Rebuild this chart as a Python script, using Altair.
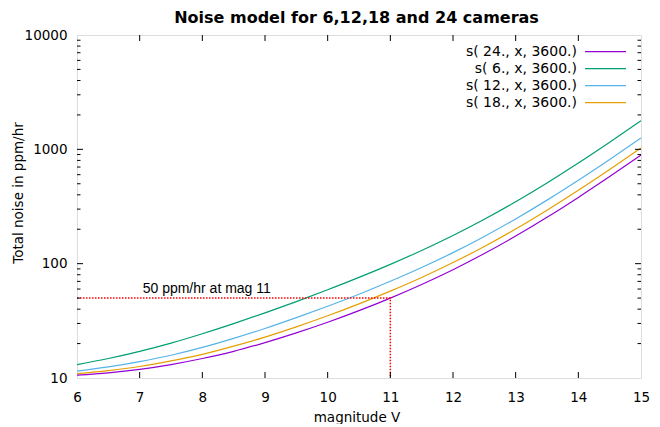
import altair as alt
import pandas as pd

# ---- data ----
mag = [6.0, 6.5, 7.0, 7.5, 8.0, 8.5, 9.0, 9.5, 10.0, 10.5, 11.0,
       11.5, 12.0, 12.5, 13.0, 13.5, 14.0, 14.5, 15.0]
noise_24 = [10.6, 11.1, 11.9, 13.1, 14.8, 17.1, 20.4, 24.8, 30.7, 38.8, 50.0,
            65.8, 88.6, 122.6, 174.3, 254.4, 379.8, 577.5, 890.0]
noise_6 = [13.1, 14.8, 17.1, 20.2, 24.4, 29.9, 37.1, 46.6, 59.1, 75.8, 98.6,
           130.5, 176.4, 244.6, 348.2, 508.5, 759.5, 1154.9, 1779.9]
noise_12 = [11.5, 12.5, 13.9, 15.8, 18.5, 22.2, 27.1, 33.7, 42.4, 54.0, 70.1,
            92.5, 124.9, 173.1, 246.3, 359.6, 537.1, 816.7, 1258.6]
noise_18 = [10.9, 11.6, 12.6, 14.1, 16.1, 19.0, 22.8, 28.0, 35.0, 44.5, 57.5,
            75.7, 102.2, 141.4, 201.2, 293.7, 438.6, 666.8, 1027.7]

series_labels = ["s( 24., x, 3600.)", "s( 6., x, 3600.)",
                 "s( 12., x, 3600.)", "s( 18., x, 3600.)"]
series_colors = ["#9400d3", "#009e73", "#56b4e9", "#e69f00"]

x_ticks = [6, 7, 8, 9, 10, 11, 12, 13, 14, 15]
y_ticks = [10, 100, 1000, 10000]
y_minor = [m * d for d in (10, 100, 1000) for m in range(2, 10)]

ref_mag = 11
ref_noise = 50
ann_mag = 7
ann_noise = 60
ann_text = "50 ppm/hr at mag 11"

title_text = "Noise model for 6,12,18 and 24 cameras"
x_title = "magnitude V"
y_title = "Total noise in ppm/hr"

# ---- layout ----
W, H = 564, 343

rows = []
for lab, vals in zip(series_labels, [noise_24, noise_6, noise_12, noise_18]):
    for m, v in zip(mag, vals):
        rows.append({"mag": m, "noise": v, "series": lab})
df = pd.DataFrame(rows)

xs = alt.Scale(domain=[6, 15], nice=False, zero=False)
ys = alt.Scale(type="log", domain=[10, 10000], nice=False)

ax_x = alt.Axis(values=x_ticks, ticks=False, tickSize=0, domain=False, grid=False,
                labelFont="DejaVu Sans", labelFontSize=13.5, labelColor="black",
                labelPadding=12, labelFlush=False, title="")
ax_y = alt.Axis(values=y_ticks, format="d", ticks=False, tickSize=0, domain=False,
                grid=False, labelFont="DejaVu Sans", labelFontSize=13.5,
                labelColor="black", labelPadding=10, labelFlush=False, title="")

X = lambda: alt.X("mag:Q", scale=xs, axis=ax_x)
Y = lambda: alt.Y("noise:Q", scale=ys, axis=ax_y)

lines = alt.Chart(df).mark_line(strokeWidth=1.2, interpolate="monotone").encode(
    x=X(), y=Y(),
    color=alt.Color("series:N", scale=alt.Scale(domain=series_labels, range=series_colors),
                    legend=None),
    order=alt.Order("mag:Q"),
)

ref_df = pd.DataFrame({"mag": [6, ref_mag, ref_mag],
                       "noise": [ref_noise, ref_noise, 10],
                       "k": [0, 1, 2]})
ref = alt.Chart(ref_df).mark_line(color="red", strokeWidth=1.5, strokeDash=[1.5, 1.5]).encode(
    x=X(), y=Y(), order="k:Q")

ann = alt.Chart(pd.DataFrame({"mag": [ann_mag], "noise": [ann_noise], "t": [ann_text]})).mark_text(
    align="left", baseline="middle", font="Liberation Sans", fontSize=14, color="black", dx=3
).encode(x=X(), y=Y(), text="t:N")

# inward ticks (gnuplot style, mirrored)
xt = pd.DataFrame({"mag": x_ticks[1:-1]})
yt = pd.DataFrame({"noise": y_ticks[1:-1]})
ym = pd.DataFrame({"noise": y_minor})
tick_layers = [
    alt.Chart(xt).mark_rule(color="black").encode(x=X(), y=alt.value(H), y2=alt.value(H - 6)),
    alt.Chart(xt).mark_rule(color="black").encode(x=X(), y=alt.value(0), y2=alt.value(6)),
    alt.Chart(yt).mark_rule(color="black").encode(y=Y(), x=alt.value(0), x2=alt.value(6)),
    alt.Chart(yt).mark_rule(color="black").encode(y=Y(), x=alt.value(W), x2=alt.value(W - 6)),
    alt.Chart(ym).mark_rule(color="black").encode(y=Y(), x=alt.value(0), x2=alt.value(3.5)),
    alt.Chart(ym).mark_rule(color="black").encode(y=Y(), x=alt.value(W), x2=alt.value(W - 3.5)),
]

# manual gnuplot-style key (label then line sample)
legend_layers = []
for i, (lab, col) in enumerate(zip(series_labels, series_colors)):
    py = 16.7 + 17.0 * i
    one = pd.DataFrame({"label": [lab]})
    legend_layers.append(
        alt.Chart(one).mark_text(align="right", baseline="middle", font="DejaVu Sans",
                                 fontSize=14, color="black").encode(
            text="label:N", x=alt.value(500), y=alt.value(py)))
    legend_layers.append(
        alt.Chart(one).mark_rule(color=col, strokeWidth=1.2).encode(
            x=alt.value(508), x2=alt.value(549), y=alt.value(py)))

# titles as text marks (positions relative to the plot area)
def label(text, x, y, **kw):
    return alt.Chart(pd.DataFrame({"t": [text]})).mark_text(
        align="center", baseline="middle", color="black", **kw).encode(
        text="t:N", x=alt.value(x), y=alt.value(y))

title_layer = label(title_text, W / 2 - 2.5, -17, font="DejaVu Sans", fontSize=16,
                    fontWeight="bold")
xtitle_layer = label(x_title, W / 2 - 2, H + 40, font="DejaVu Sans", fontSize=13.5)
ytitle_layer = label(y_title, -58, 158, font="DejaVu Sans", fontSize=13.5, angle=270)

chart = alt.layer(lines, ref, ann, *tick_layers, *legend_layers,
                  title_layer, xtitle_layer, ytitle_layer).properties(
    width=W, height=H,
    padding={"left": 69, "top": 27, "right": 11, "bottom": 46},
    autosize=alt.AutoSizeParams(type="none"),
).configure_view(stroke="black", strokeWidth=1).configure(background="white")

chart.save("out.html", embed_options={"renderer": "svg", "actions": False})
